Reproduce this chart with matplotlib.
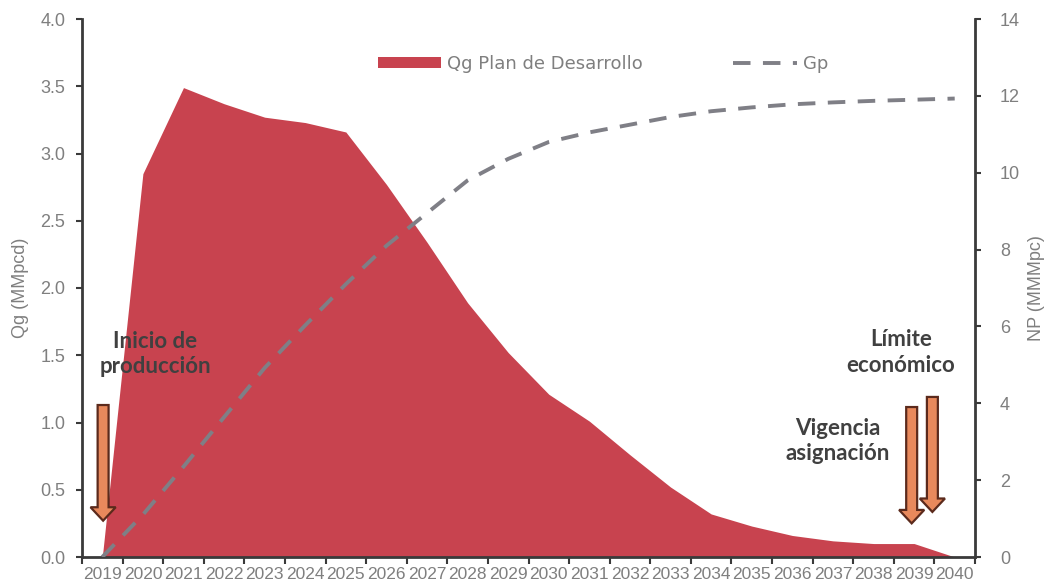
import numpy as np
import matplotlib
matplotlib.use("Agg")
import matplotlib.pyplot as plt
from matplotlib.patches import FancyArrow, Patch
from matplotlib.lines import Line2D
from matplotlib.ticker import FixedLocator

# Annual gas production profile and cumulative production
years = [str(y) for y in range(2019, 2041)]
qg = [0.0, 2.85, 3.49, 3.37, 3.27, 3.23, 3.16, 2.77, 2.34, 1.89, 1.52, 1.21,
      1.01, 0.76, 0.52, 0.32, 0.23, 0.16, 0.12, 0.10, 0.10, 0.0]
gp = [0.0, 1.1, 2.35, 3.64, 4.92, 6.03, 7.1, 8.1, 8.95, 9.8, 10.36, 10.8,
      11.05, 11.25, 11.45, 11.6, 11.7, 11.78, 11.83, 11.87, 11.9, 11.93]

RED = "#C8434F"
GREY_TXT = "#7F7F7F"
DASH = "#7F7F86"
AXC = "#3A3A3A"
ARROW_FILL = "#E8895C"
ARROW_EDGE = "#5B2A1C"
ANN = "#404040"

tick_font = ["Liberation Sans Narrow", "Liberation Sans", "DejaVu Sans"]
lab_font = ["Liberation Sans", "DejaVu Sans"]

fig = plt.figure(figsize=(10.5, 5.87), dpi=100)
ax = fig.add_axes([82 / 1050, 30 / 587, (975 - 82) / 1050, (557 - 19) / 587])
x = np.arange(len(years))

ax.fill_between(x, qg, 0, color=RED, lw=0, zorder=1)
ax.set_xlim(-0.5, len(years) - 0.5)
ax.set_ylim(0, 4.0)
ax.set_yticks(np.arange(0, 4.01, 0.5))
ax.set_yticklabels([f"{v:.1f}" for v in np.arange(0, 4.01, 0.5)])
ax.set_xticks(x)
ax.set_xticklabels(years)
ax.xaxis.set_minor_locator(FixedLocator(np.arange(-0.5, len(years), 1)))
ax.tick_params(axis="x", which="major", length=0, pad=7, labelsize=12.5,
               labelcolor=GREY_TXT)
ax.tick_params(axis="x", which="minor", length=5, width=1.5, color=AXC)
ax.tick_params(axis="y", length=4, width=1.5, color=AXC, labelsize=13,
               labelcolor=GREY_TXT, pad=8)
for lab in ax.get_xticklabels():
    lab.set_family(tick_font)
for lab in ax.get_yticklabels():
    lab.set_family(lab_font)

for s in ["top", "right"]:
    ax.spines[s].set_visible(False)
for s in ["left", "bottom"]:
    ax.spines[s].set_color(AXC)
    ax.spines[s].set_linewidth(2)

ax.set_ylabel("Qg (MMpcd)", color=GREY_TXT, fontsize=13, labelpad=8,
              family=lab_font)

ax2 = ax.twinx()
ax2.plot(x, gp, color=DASH, lw=2.8, dashes=(4.5, 3.2), zorder=3)
ax2.set_ylim(0, 14)
ax2.set_yticks(np.arange(0, 15, 2))
ax2.tick_params(axis="y", length=4, width=1.5, color=AXC, labelsize=13,
                labelcolor=GREY_TXT, pad=14)
for lab in ax2.get_yticklabels():
    lab.set_family(lab_font)
for s in ["top", "left", "bottom"]:
    ax2.spines[s].set_visible(False)
ax2.spines["right"].set_color(AXC)
ax2.spines["right"].set_linewidth(2)
ax2.set_ylabel("NP (MMMpc)", color=GREY_TXT, fontsize=13, labelpad=6,
               family=lab_font)

# Milestone arrows (x in category units, y in Qg units)
def down_arrow(xc, top, tip):
    ax.add_patch(FancyArrow(xc, top, 0, tip - top, width=0.27,
                            head_width=0.62, head_length=0.1,
                            length_includes_head=True, fc=ARROW_FILL,
                            ec=ARROW_EDGE, lw=1.6, zorder=5))

down_arrow(0.02, 1.13, 0.27)
down_arrow(19.94, 1.115, 0.25)
down_arrow(20.45, 1.19, 0.335)

ann_kw = dict(fontsize=16, fontweight="bold", color=ANN, ha="center",
              va="center", linespacing=1.25, zorder=6,
              family=["Lato", "DejaVu Sans"])
ax.text(1.3, 1.51, "Inicio de\nproducción", **ann_kw)
ax.text(19.67, 1.52, "Límite\neconómico", **ann_kw)
ax.text(18.12, 0.86, "Vigencia\nasignación", **ann_kw)

handles = [Patch(facecolor=RED, edgecolor="none"),
           Line2D([], [], color=DASH, lw=2.8, dashes=(4.5, 3.2))]
fig.legend(handles, ["Qg Plan de Desarrollo", "Gp"], loc="center",
           bbox_to_anchor=(603 / 1050, 1 - 64 / 587), ncol=2, frameon=False,
           prop={"family": "DejaVu Sans", "size": 13}, labelcolor=GREY_TXT,
           handlelength=3.5, handleheight=0.5, handletextpad=0.35,
           columnspacing=5.0)

fig.savefig("out.png", dpi=100, facecolor="white")
